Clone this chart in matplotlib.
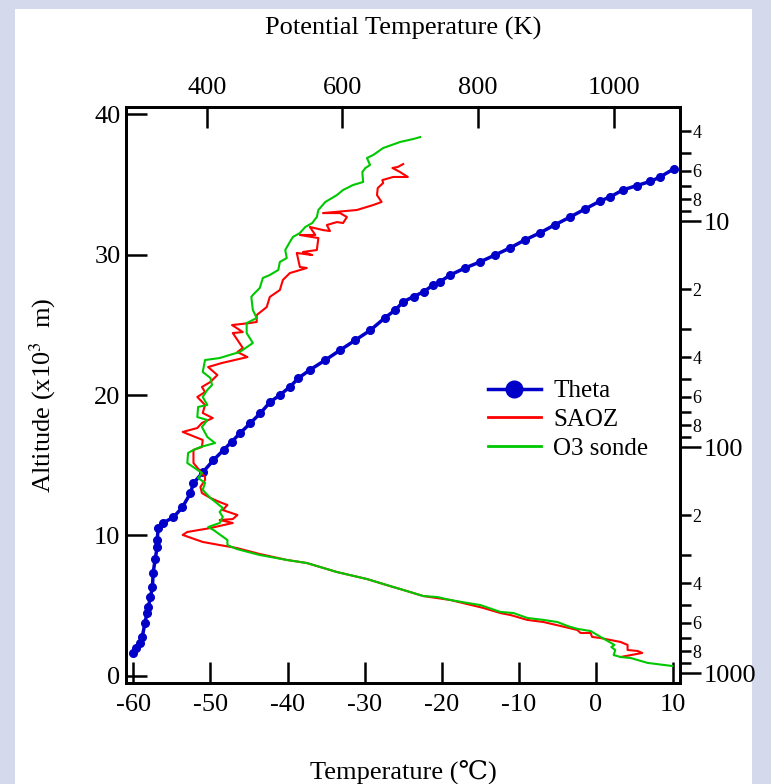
import numpy as np
import matplotlib
matplotlib.use("Agg")
import matplotlib.pyplot as plt
from matplotlib.lines import Line2D
from matplotlib.patches import Rectangle
from matplotlib.ticker import FixedLocator, LogLocator, FuncFormatter

plt.rcParams['font.family'] = ['Liberation Serif', 'DejaVu Serif', 'DejaVu Sans']
plt.rcParams['mathtext.fontset'] = 'stix'

# SAOZ temperature profile (deg C) vs altitude (km)
saoz_temp = [3.2, 6.0, 5.4, 4.1, 4.1, 3.2, 1.9, 0.6, -0.5, -0.7, -2.0, -2.4, -4.6, -6.8,
             -8.9, -11.1, -12.4, -14.6, -16.7, -18.9, -22.4, -25.4, -26.3, -29.7, -33.6,
             -37.5, -40.1, -43.6, -46.6, -48.8, -51.0, -53.6, -53.0, -50.0, -47.1, -48.8,
             -47.1, -46.5, -48.4, -47.8, -48.8, -50.0, -51.1, -51.3, -50.7, -50.7, -52.2,
             -52.2, -51.1, -51.0, -53.6, -51.7, -51.1, -49.7, -51.0, -50.7, -51.7, -50.7,
             -51.1, -50.0, -49.1, -50.3, -48.5, -45.2, -46.5, -45.8, -47.1, -45.8, -47.2,
             -44.9, -44.0, -44.0, -42.7, -42.3, -41.0, -40.6, -39.7, -37.5, -38.4, -38.8,
             -36.8, -38.0, -36.2, -36.0, -38.4, -36.4, -37.1, -35.4, -34.5, -34.9, -33.6,
             -32.8, -32.3, -33.2, -35.4, -31.0, -28.9, -27.8, -28.4, -28.3, -27.6, -27.7,
             -26.3, -24.4, -25.4, -26.4, -25.7, -25.0]
saoz_alt = [1.35, 1.64, 1.78, 1.85, 2.21, 2.42, 2.56, 2.70, 2.78, 3.06, 3.06, 3.27, 3.56, 3.84,
            3.99, 4.34, 4.48, 4.84, 5.12, 5.41, 5.69, 6.19, 6.33, 6.90, 7.40,
            8.04, 8.26, 8.68, 9.11, 9.32, 9.54, 10.04, 10.25, 10.53, 10.89, 11.10,
            11.17, 11.46, 11.81, 12.17, 12.38, 12.67, 13.02, 13.45, 13.95, 14.16, 15.16,
            16.09, 16.30, 16.80, 17.37, 17.65, 18.01, 18.36, 18.72, 19.29, 19.86, 20.21,
            20.57, 20.93, 21.42, 21.99, 22.28, 22.70, 23.06, 23.35, 24.41, 24.48, 24.98,
            25.12, 25.20, 25.69, 26.26, 26.98, 27.47, 28.19, 28.68, 29.04, 29.11, 30.11,
            29.96, 30.18, 30.32, 31.17, 31.39, 31.39, 31.96, 31.74, 31.67, 32.10, 32.31,
            32.24, 32.67, 32.95, 32.95, 33.17, 33.52, 33.74, 34.23, 34.73, 35.09, 35.30,
            35.52, 35.52, 35.87, 36.16, 36.23, 36.44]

# O3 sonde temperature profile
sonde_temp = [9.9, 6.7, 4.5, 3.2, 2.3, 2.5, 2.0, 2.4, 0.6, -0.7, -2.4, -3.7, -5.0, -6.8, -8.9,
              -10.7, -12.4, -15.0, -16.7, -18.9, -20.6, -22.4, -23.7, -25.4, -29.7, -33.6,
              -37.5, -40.1, -43.6, -46.6, -47.8, -47.8, -49.6, -50.3, -48.8, -48.4, -48.8,
              -48.4, -50.0, -51.0, -50.7, -51.6, -51.1, -53.0, -52.9, -52.2, -51.3, -49.4,
              -50.4, -51.1, -50.4, -51.7, -51.6, -50.4, -51.0, -50.4, -49.8, -50.0, -51.0,
              -50.7, -48.8, -47.5, -46.2, -44.5, -45.3, -45.3, -44.0, -44.5, -44.7, -44.5,
              -43.6, -43.2, -42.3, -41.2, -41.0, -40.1, -40.3, -39.7, -39.3, -38.4, -37.7,
              -36.8, -36.2, -36.0, -35.1, -33.6, -32.8, -31.5, -30.2, -30.3, -29.9, -29.3,
              -29.7, -28.9, -27.6, -25.4, -23.7, -22.8]
sonde_alt = [0.71, 0.93, 1.28, 1.35, 1.49, 1.85, 2.06, 2.21, 2.78, 3.20, 3.35, 3.56, 3.84, 3.99, 4.13,
             4.48, 4.56, 5.05, 5.20, 5.41, 5.62, 5.69, 5.91, 6.19, 6.90, 7.40,
             8.04, 8.26, 8.61, 9.04, 9.32, 9.68, 10.39, 10.60, 10.89, 11.32, 11.67,
             11.96, 12.67, 13.24, 13.74, 14.09, 14.45, 15.16, 15.87, 16.09, 16.30, 16.58,
             17.01, 17.72, 18.22, 18.43, 19.15, 19.29, 19.86, 20.36, 20.71, 21.21, 21.64,
             22.49, 22.63, 22.85, 23.06, 23.70, 24.41, 25.12, 25.48, 26.05, 26.98, 27.12,
             27.62, 28.33, 28.54, 28.90, 29.47, 29.75, 30.32, 30.89, 31.25, 31.53, 31.96,
             32.24, 32.67, 33.17, 33.74, 34.23, 34.59, 34.95, 35.16, 35.87, 36.16, 36.37,
             36.87, 37.08, 37.58, 38.01, 38.22, 38.36]

# potential temperature (K) vs altitude (km)
theta_k = [292, 296, 302, 305, 309, 312, 314, 317, 320, 321, 324, 327, 327, 328.5, 336, 351,
           364, 376, 380.5, 395, 410, 425, 437, 449, 464, 479, 494, 508, 523, 535, 552, 575,
           597, 619, 641, 663, 678, 690, 705, 720, 734, 744, 759, 781, 803, 825, 847, 869,
           891, 913, 936, 958, 980, 995, 1014, 1034, 1054, 1068, 1089]
theta_alt = [1.64, 2.0, 2.35, 2.8, 3.77, 4.5, 4.9, 5.62, 6.3, 7.33, 8.3, 9.18, 9.7, 10.5, 10.9, 11.3,
             12.0, 13.0, 13.72, 14.54, 15.37, 16.09, 16.68, 17.27, 17.98, 18.70, 19.52, 20.0, 20.59,
             21.19, 21.78, 22.49, 23.2, 23.9, 24.6, 25.5, 26.05, 26.64, 27.0, 27.35, 27.83, 28.06,
             28.54, 29.04, 29.47, 29.96, 30.46, 31.03, 31.53, 32.1, 32.67, 33.24, 33.8, 34.1, 34.6,
             34.9, 35.2, 35.5, 36.1]

temp_ticks = [-60, -50, -40, -30, -20, -10, 0, 10]
alt_ticks = [0, 10, 20, 30, 40]
theta_ticks = [400, 600, 800, 1000]
press_major = [10, 100, 1000]

fig = plt.figure(figsize=(7.71, 7.84), dpi=100)
fig.patch.set_facecolor('#d5d9ec')
fig.add_artist(Rectangle((15 / 771, 0), 737 / 771, 775 / 784, transform=fig.transFigure,
                         facecolor='white', edgecolor='none', zorder=-10))

ax = fig.add_axes([126 / 771, 101 / 784, 554 / 771, 576 / 784])
ax_top = ax.twiny()
ax_p = ax.twinx()
ax.set_zorder(3)
ax.patch.set_visible(False)

blue = '#0000c8'
red = '#ff0000'
green = '#00c800'

ax_top.plot(theta_k, theta_alt, color=blue, lw=2.5, marker='o', ms=5.5, mec=blue, mfc=blue)
ax.plot(saoz_temp, saoz_alt, color=red, lw=1.5)
ax.plot(sonde_temp, sonde_alt, color=green, lw=1.5)

ax.set_xlim(-60.95, 10.9)
ax.set_ylim(-0.5, 40.5)
ax.set_xticks(temp_ticks)
ax.set_xticklabels([str(t) for t in temp_ticks])
ax.set_yticks(alt_ticks)
ax.tick_params(axis='x', direction='in', length=15, width=1.8, labelsize=19, pad=8, top=False)
ax.tick_params(axis='y', direction='in', length=15, width=1.8, labelsize=19, pad=4, right=False)

ax_top.set_xlim(281, 1098)
ax_top.set_xticks(theta_ticks)
ax_top.tick_params(axis='x', direction='in', length=15, width=1.8, labelsize=19, pad=6)

ax_p.set_yscale('log')
ax_p.set_ylim(1107, 3.13)
ax_p.yaxis.set_major_locator(FixedLocator(press_major))
ax_p.yaxis.set_major_formatter(FuncFormatter(lambda v, p: '%d' % v))
ax_p.yaxis.set_minor_locator(LogLocator(base=10, subs=(2, 3, 4, 5, 6, 7, 8, 9)))


def minor_fmt(v, pos):
    d = int(round(v / 10 ** np.floor(np.log10(v))))
    return str(d) if d in (2, 4, 6, 8) else ''


ax_p.yaxis.set_minor_formatter(FuncFormatter(minor_fmt))
ax_p.tick_params(axis='y', which='major', direction='out', length=15, width=1.8, labelsize=19, pad=2)
ax_p.tick_params(axis='y', which='minor', direction='out', length=8, width=1.8, labelsize=13, pad=1)

for a in (ax, ax_top, ax_p):
    for s in a.spines.values():
        s.set_linewidth(1.8)

ax.set_xlabel('Temperature (\u2103)', fontsize=19, labelpad=31)
ax_top.set_xlabel('Potential Temperature (K)', fontsize=19, labelpad=30)
ax.set_ylabel('Altitude (x10$^3$  m)', fontsize=19, labelpad=26)

handles = [Line2D([], [], color=blue, lw=2.5, marker='o', ms=12),
           Line2D([], [], color=red, lw=2),
           Line2D([], [], color=green, lw=2)]
leg = ax.legend(handles, ['Theta', 'SAOZ', 'O3 sonde'], loc='upper left',
                bbox_to_anchor=(478 / 771, 1 - 370 / 784), bbox_transform=fig.transFigure,
                frameon=False, fontsize=18, handlelength=2.1, handletextpad=0.5,
                labelspacing=0.25, borderaxespad=0)

fig.savefig('out.png', dpi=100, facecolor=fig.get_facecolor())
